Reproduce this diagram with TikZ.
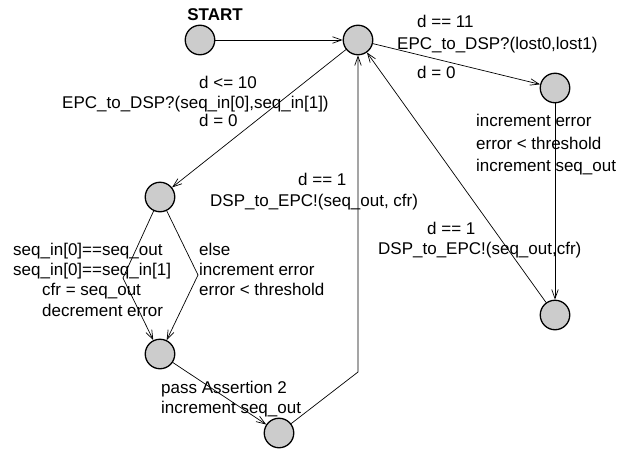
\documentclass[tikz,border=0pt]{standalone}
\usepackage{fontspec}
\setmainfont{Liberation Sans}
\usetikzlibrary{arrows.meta}
\begin{document}
\begin{tikzpicture}[x=1pt,y=-1pt,
  state/.style={circle, draw, fill=black!20, minimum size=29.5pt, inner sep=0pt, line width=1.3pt},
  lbl/.style={font=\fontsize{17}{20}\selectfont, inner sep=0pt, anchor=west, text height=12pt, text depth=0pt},
  edge/.style={draw, line width=0.7pt, -{Straight Barb[length=9pt,width=6.5pt]}}]
\useasboundingbox (0,0) rectangle (627,450);

% locations
\node[state] (start) at (200,40) {};
\node[state] (hub)   at (358,40) {};
\node[state] (tr)    at (555,88) {};
\node[state] (br)    at (555,315) {};
\node[state] (lm)    at (160,197) {};
\node[state] (lb)    at (160,354) {};
\node[state] (bot)   at (279,433) {};

% bend points of the polyline edges
\coordinate (cL) at (123,278);
\coordinate (cR) at (198,275);
\coordinate (cB) at (358,372);

% transitions
\draw[edge] (start) -- (hub);
\draw[edge] (hub) -- (tr);
\draw[edge] (tr) -- (br);
\draw[edge] (br) -- (hub);
\draw[edge] (hub) -- (lm);
\draw[edge] (lm) -- (cL) -- (lb);
\draw[edge] (lm) -- (cR) -- (lb);
\draw[edge] (lb) -- (bot);
\draw[edge] (bot) -- (cB) -- (hub);

% labels
\node[lbl, anchor=center, font=\fontsize{17}{20}\selectfont\bfseries] (tstart) at (215,14) {START};

\node[lbl] (g1) at (417,21) {d == 11};
\node[lbl] (s1) at (397,43) {EPC\_to\_DSP?(lost0,lost1)};
\node[lbl] (a1) at (417,72) {d = 0};

\node[lbl] (g2) at (199,82) {d <= 10};
\node[lbl] (s2) at (62,102) {EPC\_to\_DSP?(seq\_in[0],seq\_in[1])};
\node[lbl] (a2) at (199,120) {d = 0};

\node[lbl] (g3a) at (13,249) {seq\_in[0]==seq\_out};
\node[lbl] (g3b) at (13,269) {seq\_in[0]==seq\_in[1]};
\node[lbl] (a3a) at (42,289) {cfr = seq\_out};
\node[lbl] (a3b) at (42,310) {decrement error};

\node[lbl] (g4a) at (199,249) {else};
\node[lbl] (g4b) at (199,269) {increment error};
\node[lbl] (g4c) at (199,289) {error < threshold};

\node[lbl] (g5) at (298,179) {d == 1};
\node[lbl] (s5) at (210,200) {DSP\_to\_EPC!(seq\_out, cfr)};

\node[lbl] (g6) at (427,228) {d == 1};
\node[lbl] (s6) at (378,248) {DSP\_to\_EPC!(seq\_out,cfr)};

\node[lbl] (a7a) at (476,120) {increment error};
\node[lbl] (a7b) at (476,143) {error < threshold};
\node[lbl] (a7c) at (476,165) {increment seq\_out};

\node[lbl] (a8a) at (161,387) {pass Assertion 2};
\node[lbl] (a8b) at (161,407) {increment seq\_out};
\end{tikzpicture}
\end{document}
